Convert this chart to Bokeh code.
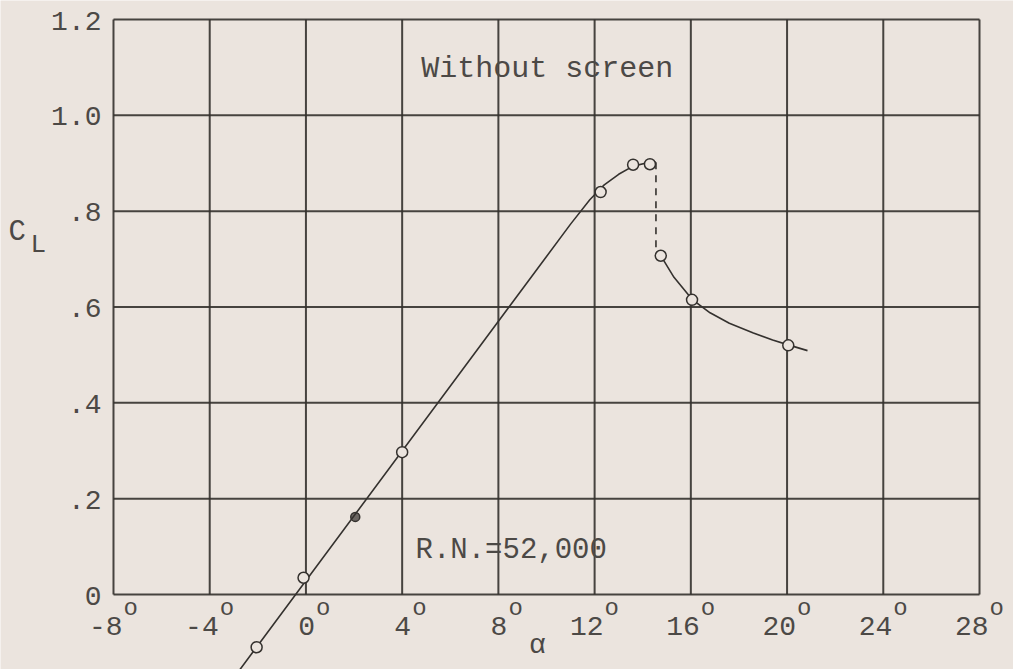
from bokeh.plotting import figure
from bokeh.models import Range1d
from bokeh.core.properties import value
from bokeh.embed import file_html
from bokeh.resources import INLINE

# ---- data ----
x_ticks = [-8, -4, 0, 4, 8, 12, 16, 20, 24, 28]
x_tick_labels = ["-8", "-4", "0", "4", "8", "12", "16", "20", "24", "28"]
y_ticks = [0, 0.2, 0.4, 0.6, 0.8, 1.0, 1.2]
y_tick_labels = ["0", ".2", ".4", ".6", ".8", "1.0", "1.2"]

# measured points (circles)
alpha_pts = [-2.05, -0.1, 4.0, 12.25, 13.6, 14.3, 14.75, 16.05, 20.05]
cl_pts = [-0.11, 0.035, 0.297, 0.84, 0.897, 0.898, 0.707, 0.615, 0.52]
# odd-marked point
alpha_odd = [2.05]
cl_odd = [0.162]

# faired curve before stall
alpha_fair_pre = [-2.75, 11.0, 11.8, 12.4, 13.0, 13.6, 14.2, 14.55]
cl_fair_pre = [-0.157, 0.773, 0.824, 0.855, 0.877, 0.894, 0.901, 0.902]
# stall drop (dashed)
alpha_stall = [14.55, 14.55]
cl_stall = [0.902, 0.722]
# faired curve after stall
alpha_fair_post = [14.8, 15.3, 16.05, 16.8, 17.6, 18.6, 19.4, 20.05, 20.85]
cl_fair_post = [0.703, 0.662, 0.616, 0.588, 0.566, 0.546, 0.531, 0.521, 0.509]

PAPER = "#ebe4de"
INK = "#34312e"
TEXT = "#4c4946"
FONT = "Liberation Mono"

# the frame covers the whole canvas; the chart box is drawn from the tick lists
p = figure(
    width=1013, height=669,
    x_range=Range1d(-12.697, 29.413), y_range=Range1d(-0.1565, 1.2397),
    output_backend="svg", toolbar_location=None,
    x_axis_location=None, y_axis_location=None,
    min_border_left=0, min_border_right=0, min_border_top=0, min_border_bottom=0,
    background_fill_color=PAPER, border_fill_color=PAPER,
    outline_line_color=None,
)
p.grid.visible = False

n = len(x_ticks)
m = len(y_ticks)
x0, x1 = x_ticks[0], x_ticks[-1]
y0, y1 = y_ticks[0], y_ticks[-1]

# grid (frame included)
p.segment(x0=x_ticks, y0=[y0] * n, x1=x_ticks, y1=[y1] * n,
          line_color=INK, line_width=2, line_alpha=0.9)
p.segment(x0=[x0] * m, y0=y_ticks, x1=[x1] * m, y1=y_ticks,
          line_color=INK, line_width=2, line_alpha=0.9)

# y tick labels
p.text(x=[x0] * m, y=y_ticks, text=y_tick_labels, x_offset=-12, y_offset=1,
       text_align="right", text_baseline="middle",
       text_font=value(FONT), text_font_size="28px", text_color=TEXT)

# x tick labels with raised "o" degree marks
p.text(x=x_ticks, y=[y0] * n, text=x_tick_labels, x_offset=9, y_offset=31,
       text_align="right", text_baseline="alphabetic",
       text_font=value(FONT), text_font_size="28px", text_color=TEXT)
p.text(x=x_ticks, y=[y0] * n, text=["o"] * n, x_offset=10, y_offset=14,
       text_align="left", text_baseline="alphabetic",
       text_font=value(FONT), text_font_size="24px", text_color=TEXT)

# curves
p.line(alpha_fair_pre, cl_fair_pre, line_color=INK, line_width=1.6)
p.line(alpha_stall, cl_stall, line_color=INK, line_width=1.6, line_dash="7 6")
p.line(alpha_fair_post, cl_fair_post, line_color=INK, line_width=1.6)

# points
p.scatter(alpha_pts, cl_pts, marker="circle", size=11, fill_color=PAPER,
          line_color=INK, line_width=1.5)
p.scatter(alpha_odd, cl_odd, marker="circle", size=9, fill_color=INK,
          fill_alpha=0.7, line_color=INK, line_width=1.5)

# annotations
p.text(x=[4.79], y=[1.0977], text=["Without screen"], text_align="left",
       text_baseline="alphabetic", text_font=value(FONT), text_font_size="30px",
       text_color=TEXT)
p.text(x=[4.554], y=[0.0918], text=["R.N.=52,000"], text_align="left",
       text_baseline="alphabetic", text_font=value(FONT), text_font_size="29px",
       text_color=TEXT)
p.text(x=[9.626], y=[-0.1064], text=["α"], text_align="center",
       text_baseline="alphabetic", text_font=value(FONT), text_font_size="28px",
       text_color=TEXT)

# axis title C_L (subscript L)
p.text(x=[-12.365], y=[0.7555], text=["C"], text_align="left",
       text_baseline="alphabetic", text_font=value(FONT), text_font_size="29px",
       text_color=TEXT)
p.text(x=[-11.45], y=[0.7284], text=["L"], text_align="left",
       text_baseline="alphabetic", text_font=value(FONT), text_font_size="26px",
       text_color=TEXT)

open("out.html", "w").write(file_html(p, INLINE))
